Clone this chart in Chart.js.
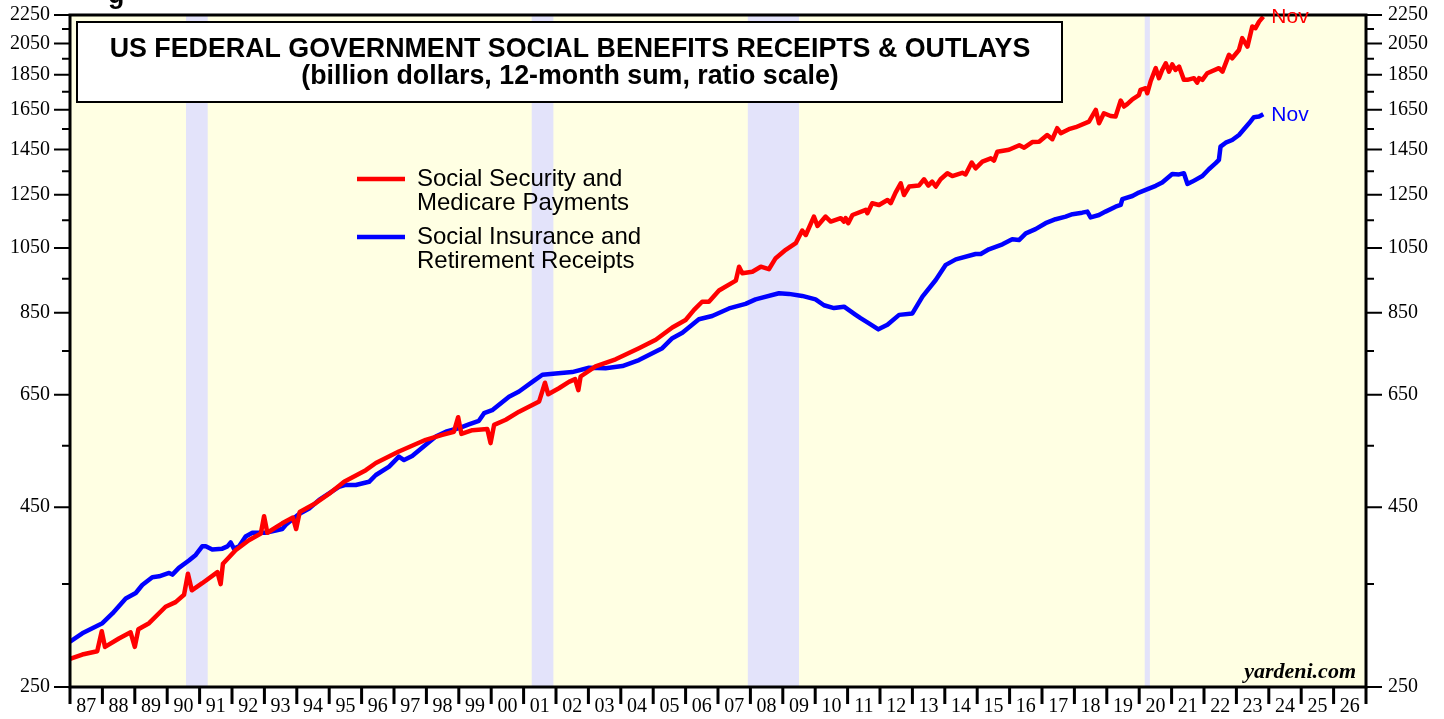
<!DOCTYPE html>
<html>
<head>
<meta charset="utf-8">
<script src="https://cdn.jsdelivr.net/npm/chart.js@4.4.1/dist/chart.umd.min.js"></script>
<style>
  html, body { margin: 0; padding: 0; background: #fff; }
  canvas { display: block; }
</style>
</head>
<body>
<canvas id="chart" width="1444" height="719"></canvas>
<script>
// Social Security and Medicare payments (red), billion $, 12-month sum
var ssYears = [
  1987.00, 1987.38, 1987.84, 1987.98, 1988.08, 1988.51, 1988.87, 1989.00, 1989.11, 1989.44,
  1989.95, 1990.26, 1990.52, 1990.64, 1990.76, 1991.08, 1991.55, 1991.65, 1991.72, 1992.11,
  1992.52, 1992.89, 1992.99, 1993.09, 1993.55, 1993.88, 1993.98, 1994.09, 1994.58, 1994.99,
  1995.46, 1996.13, 1996.44, 1997.15, 1997.98, 1998.49, 1998.85, 1998.98, 1999.08, 1999.42,
  1999.88, 1999.98, 2000.09, 2000.45, 2000.86, 2001.48, 2001.66, 2001.76, 2002.09, 2002.40,
  2002.59, 2002.69, 2002.76, 2003.22, 2003.84, 2004.56, 2005.08, 2005.59, 2006.00, 2006.26,
  2006.51, 2006.72, 2007.03, 2007.55, 2007.65, 2007.75, 2008.06, 2008.32, 2008.57, 2008.78,
  2009.09, 2009.40, 2009.60, 2009.71, 2009.96, 2010.07, 2010.32, 2010.48, 2010.79, 2010.89,
  2010.94, 2011.02, 2011.15, 2011.56, 2011.61, 2011.76, 2011.97, 2012.23, 2012.33, 2012.48,
  2012.64, 2012.74, 2012.90, 2013.20, 2013.36, 2013.49, 2013.61, 2013.72, 2013.87, 2014.08,
  2014.23, 2014.54, 2014.64, 2014.83, 2014.95, 2015.16, 2015.42, 2015.52, 2015.62, 2015.98,
  2016.30, 2016.45, 2016.70, 2016.91, 2017.16, 2017.32, 2017.47, 2017.58, 2017.83, 2018.04,
  2018.45, 2018.66, 2018.76, 2018.91, 2019.12, 2019.27, 2019.43, 2019.53, 2019.63, 2019.79,
  2019.99, 2020.04, 2020.20, 2020.25, 2020.35, 2020.51, 2020.61, 2020.71, 2020.82, 2020.92,
  2021.02, 2021.12, 2021.23, 2021.38, 2021.49, 2021.69, 2021.79, 2021.85, 2021.95, 2022.10,
  2022.46, 2022.57, 2022.77, 2022.87, 2023.08, 2023.18, 2023.34, 2023.49, 2023.59, 2023.70,
  2023.83
];
var ssValues = [
  274, 278, 281, 300, 285, 293, 299, 285, 302, 308,
  325, 330, 338, 362, 343, 351, 364, 350, 374, 391,
  404, 413, 437, 414, 427, 435, 419, 443, 456, 470,
  489, 508, 520, 540, 561, 570, 576, 604, 572, 579,
  581, 555, 589, 599, 615, 636, 676, 651, 664, 678,
  684, 660, 690, 713, 730, 757, 778, 810, 830, 858,
  881, 881, 914, 944, 988, 967, 972, 988, 980, 1016,
  1044, 1067, 1112, 1096, 1164, 1129, 1164, 1145, 1158, 1145,
  1158, 1139, 1170, 1190, 1177, 1216, 1209, 1229, 1216, 1259,
  1298, 1249, 1284, 1288, 1315, 1288, 1305, 1284, 1315, 1341,
  1329, 1343, 1336, 1389, 1363, 1393, 1408, 1398, 1439, 1448,
  1470, 1458, 1485, 1487, 1520, 1499, 1554, 1529, 1549, 1559,
  1588, 1650, 1579, 1632, 1617, 1614, 1701, 1668, 1681, 1708,
  1731, 1761, 1771, 1742, 1810, 1891, 1830, 1880, 1921, 1870,
  1915, 1880, 1901, 1820, 1820, 1830, 1804, 1830, 1820, 1860,
  1891, 1870, 1975, 1953, 2007, 2086, 2029, 2167, 2155, 2202,
  2238
];

// Social insurance and retirement receipts (blue)
var siYears = [
  1987.00, 1987.38, 1988.00, 1988.31, 1988.72, 1989.03, 1989.23, 1989.54, 1989.75, 1990.06,
  1990.16, 1990.36, 1990.67, 1990.88, 1991.08, 1991.19, 1991.39, 1991.70, 1991.86, 1991.96,
  1992.06, 1992.22, 1992.42, 1992.63, 1993.04, 1993.14, 1993.55, 1993.66, 1994.07, 1994.38,
  1994.69, 1995.30, 1995.51, 1995.82, 1996.23, 1996.44, 1996.85, 1997.15, 1997.31, 1997.56,
  1997.98, 1998.29, 1998.60, 1999.01, 1999.31, 1999.62, 1999.78, 2000.03, 2000.55, 2000.86,
  2001.27, 2001.58, 2001.99, 2002.50, 2003.02, 2003.53, 2004.05, 2004.56, 2005.28, 2005.59,
  2005.90, 2006.41, 2006.82, 2007.34, 2007.85, 2008.16, 2008.88, 2009.19, 2009.60, 2010.01,
  2010.27, 2010.58, 2010.89, 2011.25, 2011.40, 2011.66, 2011.95, 2012.23, 2012.59, 2013.00,
  2013.31, 2013.72, 2014.03, 2014.34, 2014.95, 2015.11, 2015.36, 2015.78, 2016.08, 2016.29,
  2016.50, 2016.80, 2017.11, 2017.42, 2017.73, 2017.94, 2018.24, 2018.40, 2018.50, 2018.76,
  2018.96, 2019.27, 2019.43, 2019.48, 2019.79, 2019.99, 2020.20, 2020.51, 2020.71, 2021.02,
  2021.23, 2021.38, 2021.49, 2021.64, 2021.95, 2022.15, 2022.36, 2022.46, 2022.51, 2022.67,
  2022.87, 2023.08, 2023.39, 2023.54, 2023.70, 2023.83
];
var siValues = [
  290, 298, 308, 318, 334, 340, 349, 358, 359, 363,
  361, 369, 378, 385, 396, 396, 392, 393, 396, 401,
  393, 396, 409, 414, 414, 415, 419, 425, 440, 448,
  461, 481, 484, 484, 489, 500, 514, 531, 525, 532,
  552, 567, 576, 583, 590, 597, 612, 618, 646, 657,
  678, 694, 697, 700, 710, 709, 714, 728, 757, 782,
  796, 832, 841, 862, 875, 888, 906, 904, 898, 888,
  871, 863, 867, 844, 835, 821, 805, 817, 844, 848,
  896, 946, 994, 1012, 1030, 1030, 1046, 1063, 1081, 1078,
  1102, 1117, 1139, 1154, 1164, 1173, 1179, 1183, 1161, 1170,
  1183, 1202, 1209, 1232, 1245, 1259, 1270, 1287, 1301, 1338,
  1336, 1341, 1295, 1305, 1329, 1359, 1386, 1401, 1463, 1482,
  1495, 1520, 1579, 1611, 1614, 1626
];

var yearTicks = [
  1987, 1988, 1989, 1990, 1991, 1992, 1993, 1994, 1995, 1996, 1997, 1998, 1999, 2000,
  2001, 2002, 2003, 2004, 2005, 2006, 2007, 2008, 2009, 2010, 2011, 2012, 2013, 2014,
  2015, 2016, 2017, 2018, 2019, 2020, 2021, 2022, 2023, 2024, 2025, 2026, 2027
];
var yearLabels = [
  '87', '88', '89', '90', '91', '92', '93', '94', '95', '96', '97', '98', '99', '00',
  '01', '02', '03', '04', '05', '06', '07', '08', '09', '10', '11', '12', '13', '14',
  '15', '16', '17', '18', '19', '20', '21', '22', '23', '24', '25', '26', ''
];
var valueTicks = [250, 350, 450, 550, 650, 750, 850, 950, 1050, 1150, 1250, 1350, 1450, 1550, 1650, 1750, 1850, 1950, 2050, 2150, 2250];
var valueLabels = [250, 450, 650, 850, 1050, 1250, 1450, 1650, 1850, 2050, 2250];

var recessionStart = [1990.58, 2001.25, 2007.92, 2020.17];
var recessionEnd = [1991.25, 2001.92, 2009.50, 2020.33];

var RED = '#ff0000';
var BLUE = '#0000ff';

function toPoints(xs, ys) {
  return xs.map(function (x, i) { return { x: x, y: ys[i] }; });
}

function setValueTicks(scale) {
  scale.ticks = valueTicks.map(function (v) { return { value: v }; });
}

function valueLabel(v) {
  return valueLabels.indexOf(v) >= 0 ? String(v) : '';
}

// keep the plot area where the original has it: no extra room for label overflow
function noOverflow(scale) {
  scale.paddingTop = 0;
  scale.paddingBottom = 0;
  scale.paddingLeft = 0;
  scale.paddingRight = 0;
}

var serif = '"Liberation Serif", "Times New Roman", serif';
var sans = '"Liberation Sans", Arial, sans-serif';

var decor = {
  id: 'decor',
  beforeDraw: function (chart) {
    var ctx = chart.ctx, a = chart.chartArea, xs = chart.scales.x;
    ctx.save();
    ctx.fillStyle = '#ffffff';
    ctx.fillRect(0, 0, chart.width, chart.height);
    ctx.fillStyle = '#ffffe3';
    ctx.fillRect(a.left, a.top, a.right - a.left, a.bottom - a.top);
    ctx.fillStyle = '#e3e3fa';
    for (var i = 0; i < recessionStart.length; i++) {
      var x0 = xs.getPixelForValue(recessionStart[i]);
      var x1 = xs.getPixelForValue(recessionEnd[i]);
      ctx.fillRect(x0, a.top, x1 - x0, a.bottom - a.top);
    }
    ctx.restore();
  },
  afterDraw: function (chart) {
    var ctx = chart.ctx, a = chart.chartArea;
    var xs = chart.scales.x, ys = chart.scales.y;
    ctx.save();

    // tick marks
    ctx.strokeStyle = '#000';
    ctx.lineWidth = 3;
    yearTicks.forEach(function (yr) {
      var px = xs.getPixelForValue(yr);
      ctx.beginPath();
      ctx.moveTo(px, a.bottom);
      ctx.lineTo(px, a.bottom + 17);
      ctx.stroke();
    });
    ctx.lineWidth = 2;
    valueTicks.forEach(function (v) {
      var py = ys.getPixelForValue(v);
      var len = valueLabels.indexOf(v) >= 0 ? 16 : 8;
      ctx.beginPath();
      ctx.moveTo(a.left - len, py);
      ctx.lineTo(a.left, py);
      ctx.moveTo(a.right, py);
      ctx.lineTo(a.right + len, py);
      ctx.stroke();
    });

    // frame
    ctx.lineWidth = 3;
    ctx.strokeRect(a.left, a.top, a.right - a.left, a.bottom - a.top);

    // title box
    ctx.fillStyle = '#fff';
    ctx.fillRect(77, 22, 985, 80);
    ctx.lineWidth = 2;
    ctx.strokeRect(77, 22, 985, 80);
    ctx.fillStyle = '#000';
    ctx.textAlign = 'center';
    ctx.textBaseline = 'alphabetic';
    ctx.font = 'bold 26.8px ' + sans;
    ctx.fillText('US FEDERAL GOVERNMENT SOCIAL BENEFITS RECEIPTS & OUTLAYS', 570, 57);
    ctx.fillText('(billion dollars, 12-month sum, ratio scale)', 570, 84);

    // cut-off heading remnant at top
    ctx.textAlign = 'left';
    ctx.fillText('g', 108, 3);

    // legend
    ctx.lineWidth = 4.5;
    ctx.strokeStyle = RED;
    ctx.beginPath(); ctx.moveTo(357, 179); ctx.lineTo(405, 179); ctx.stroke();
    ctx.strokeStyle = BLUE;
    ctx.beginPath(); ctx.moveTo(357, 237); ctx.lineTo(405, 237); ctx.stroke();
    ctx.fillStyle = '#000';
    ctx.font = '24px ' + sans;
    ctx.textBaseline = 'middle';
    ctx.fillText('Social Security and', 417, 179);
    ctx.fillText('Medicare Payments', 417, 203);
    ctx.fillText('Social Insurance and', 417, 237);
    ctx.fillText('Retirement Receipts', 417, 261);

    // end labels
    ctx.font = '21px ' + sans;
    var n1 = ssYears.length - 1, n2 = siYears.length - 1;
    ctx.fillStyle = RED;
    ctx.fillText('Nov', xs.getPixelForValue(ssYears[n1]) + 8, ys.getPixelForValue(ssValues[n1]) + 1);
    ctx.fillStyle = BLUE;
    ctx.fillText('Nov', xs.getPixelForValue(siYears[n2]) + 8, ys.getPixelForValue(siValues[n2]) + 1);

    // source
    ctx.fillStyle = '#000';
    ctx.textAlign = 'right';
    ctx.textBaseline = 'alphabetic';
    ctx.font = 'italic bold 22px ' + serif;
    ctx.fillText('yardeni.com', 1356, 678);

    ctx.restore();
  }
};

new Chart(document.getElementById('chart').getContext('2d'), {
  type: 'line',
  data: {
    datasets: [{
      label: 'Social Security and Medicare Payments',
      data: toPoints(ssYears, ssValues),
      borderColor: RED,
      borderWidth: 4.5,
      pointRadius: 0,
      borderJoinStyle: 'round',
      tension: 0,
      yAxisID: 'y'
    }, {
      label: 'Social Insurance and Retirement Receipts',
      data: toPoints(siYears, siValues),
      borderColor: BLUE,
      borderWidth: 4.5,
      pointRadius: 0,
      borderJoinStyle: 'round',
      tension: 0,
      yAxisID: 'y'
    }]
  },
  options: {
    responsive: false,
    animation: false,
    events: [],
    layout: { padding: { top: 15, left: 0, right: 0, bottom: 0 } },
    plugins: {
      legend: { display: false },
      tooltip: { enabled: false }
    },
    scales: {
      x: {
        type: 'linear',
        min: 1987,
        max: 2027,
        afterBuildTicks: function (scale) {
          scale.ticks = yearTicks.map(function (v) { return { value: v }; });
        },
        afterFit: function (scale) { scale.height = 32; noOverflow(scale); },
        grid: { display: false, drawTicks: false },
        border: { display: false },
        ticks: {
          autoSkip: false,
          maxRotation: 0,
          labelOffset: 16.2,
          padding: 8,
          color: '#000',
          font: { family: serif, size: 20 },
          callback: function (v) {
            var i = yearTicks.indexOf(v);
            return i >= 0 ? yearLabels[i] : '';
          }
        }
      },
      y: {
        type: 'logarithmic',
        position: 'left',
        min: 250,
        max: 2250,
        afterBuildTicks: setValueTicks,
        afterFit: function (scale) { scale.width = 70; noOverflow(scale); },
        grid: { display: false, drawTicks: false },
        border: { display: false },
        ticks: {
          autoSkip: false,
          padding: 20,
          color: '#000',
          font: { family: serif, size: 20 },
          callback: valueLabel
        }
      },
      y2: {
        type: 'logarithmic',
        position: 'right',
        min: 250,
        max: 2250,
        afterBuildTicks: setValueTicks,
        afterFit: function (scale) { scale.width = 78; noOverflow(scale); },
        grid: { display: false, drawTicks: false },
        border: { display: false },
        ticks: {
          autoSkip: false,
          padding: 22,
          color: '#000',
          font: { family: serif, size: 20 },
          callback: valueLabel
        }
      }
    }
  },
  plugins: [decor]
});
</script>
</body>
</html>
